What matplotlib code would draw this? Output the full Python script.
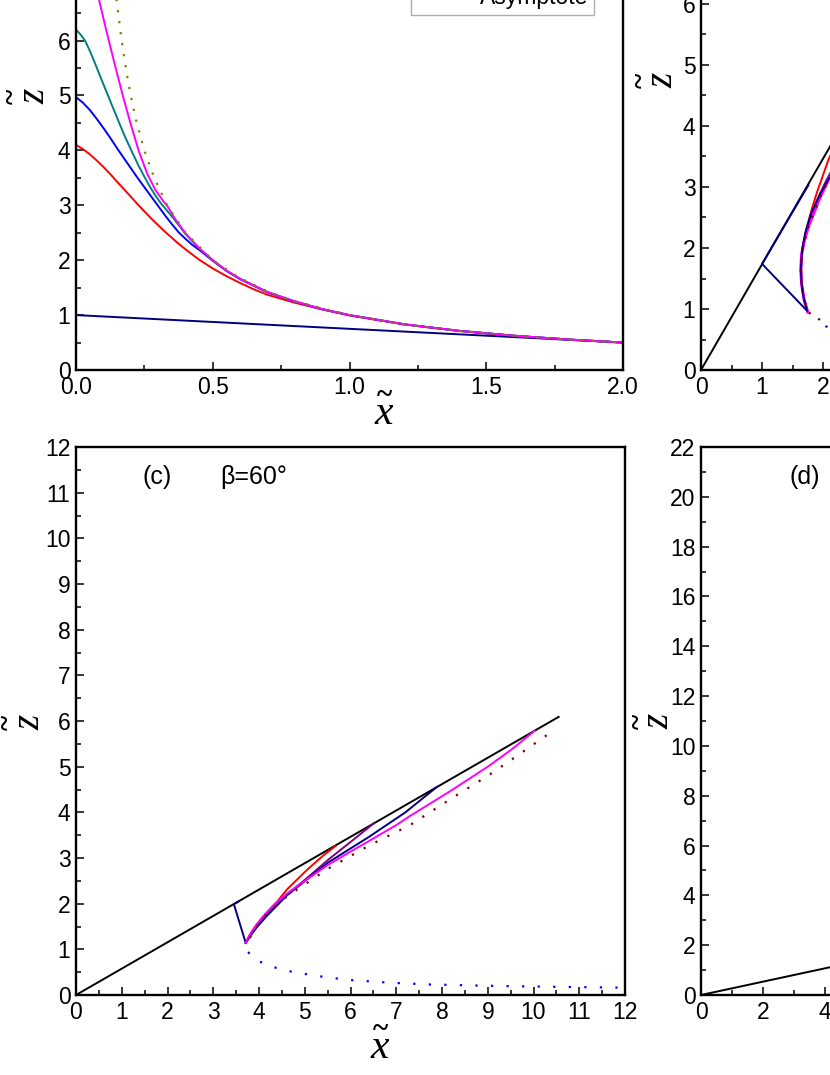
import numpy as np
import matplotlib
matplotlib.use('Agg')
import matplotlib.pyplot as plt
from matplotlib.ticker import MultipleLocator

plt.rcParams['font.family'] = ['Liberation Sans', 'DejaVu Sans']

# ── panel (a) data ────────────────────────────────────────────────────────────
a_asym_x = [0.12, 0.135, 0.149, 0.167, 0.186, 0.2, 0.222, 0.25, 0.286, 0.333, 0.4, 0.5, 0.6, 0.7, 0.8, 1.0, 1.2, 1.4, 1.6, 1.8, 2.0]
a_asym_z = [8.33, 7.41, 6.71, 6.0, 5.38, 5.0, 4.5, 4.0, 3.5, 3.0, 2.5, 2.0, 1.67, 1.43, 1.25, 1.0, 0.83, 0.71, 0.625, 0.556, 0.5]

a_mag_x = [0.06, 0.084, 0.11, 0.14, 0.17, 0.2, 0.23, 0.26, 0.29, 0.32, 0.335, 0.36, 0.4, 0.45, 0.5, 0.55, 0.6, 0.7, 0.8, 0.9, 1.0, 1.2, 1.4, 1.6, 1.8, 2.0]
a_mag_z = [7.25, 6.75, 6.2, 5.6, 5.02, 4.48, 3.98, 3.58, 3.28, 3.07, 2.98, 2.77, 2.49, 2.22, 2.0, 1.81, 1.66, 1.42, 1.25, 1.11, 1.0, 0.833, 0.714, 0.625, 0.556, 0.5]

a_teal_x = [0.0, 0.0, 0.015, 0.033, 0.05, 0.07, 0.09, 0.112, 0.135, 0.158, 0.18, 0.204, 0.228, 0.25, 0.27, 0.29, 0.31, 0.33, 0.36, 0.4, 0.45, 0.5, 0.55, 0.6, 0.7, 0.8, 0.9, 1.0, 1.2, 1.4, 1.6, 1.8, 2.0]
a_teal_z = [6.3, 6.2, 6.12, 6.0, 5.82, 5.58, 5.33, 5.06, 4.78, 4.5, 4.24, 3.98, 3.73, 3.52, 3.34, 3.18, 3.04, 2.92, 2.74, 2.48, 2.22, 2.0, 1.81, 1.66, 1.42, 1.25, 1.11, 1.0, 0.833, 0.714, 0.625, 0.556, 0.5]

a_blue_x = [0.0, 0.0, 0.025, 0.05, 0.075, 0.1, 0.125, 0.15, 0.175, 0.2, 0.225, 0.25, 0.275, 0.3, 0.325, 0.35, 0.375, 0.4, 0.425, 0.45, 0.5, 0.55, 0.6, 0.7, 0.8, 0.9, 1.0, 1.2, 1.4, 1.6, 1.8, 2.0]
a_blue_z = [5.1, 4.97, 4.87, 4.74, 4.58, 4.41, 4.23, 4.04, 3.86, 3.68, 3.5, 3.33, 3.16, 2.99, 2.82, 2.66, 2.51, 2.39, 2.28, 2.19, 1.99, 1.805, 1.655, 1.415, 1.245, 1.105, 0.998, 0.832, 0.713, 0.624, 0.555, 0.5]

a_red_x = [0.0, 0.0, 0.025, 0.05, 0.075, 0.1, 0.125, 0.15, 0.175, 0.2, 0.225, 0.25, 0.275, 0.3, 0.325, 0.35, 0.375, 0.4, 0.45, 0.5, 0.55, 0.6, 0.65, 0.7, 0.8, 0.9, 1.0, 1.2, 1.4, 1.6, 1.8, 2.0]
a_red_z = [4.2, 4.1, 4.025, 3.93, 3.82, 3.7, 3.57, 3.43, 3.295, 3.16, 3.02, 2.89, 2.76, 2.64, 2.52, 2.41, 2.3, 2.2, 2.01, 1.85, 1.71, 1.585, 1.47, 1.37, 1.225, 1.105, 0.995, 0.83, 0.712, 0.624, 0.555, 0.5]

a_navy_x = [0.0, 0.5, 1.0, 1.5, 2.0]
a_navy_z = [1.0, 0.875, 0.75, 0.625, 0.5]

# ── panel (b) data ────────────────────────────────────────────────────────────
b_wall_x = [0.0, 5.0]
b_wall_z = [0.0, 8.66]

b_navy_x = [1.76, 1.0, 1.74, 1.68, 1.645, 1.64, 1.66, 1.71, 1.8, 1.95, 2.12, 2.4]
b_navy_z = [3.03, 1.74, 0.97, 1.2, 1.45, 1.7, 1.98, 2.25, 2.55, 2.88, 3.18, 3.6]

b_mag_x = [1.75, 1.69, 1.65, 1.635, 1.65, 1.69, 1.76, 1.86, 1.96, 2.12, 2.3, 2.6]
b_mag_z = [0.95, 1.15, 1.4, 1.65, 1.9, 2.1, 2.35, 2.6, 2.85, 3.18, 3.5, 3.95]

b_purple_x = [1.75, 1.69, 1.65, 1.64, 1.655, 1.7, 1.78, 1.9, 2.05, 2.2, 2.45]
b_purple_z = [0.95, 1.15, 1.4, 1.65, 1.92, 2.15, 2.45, 2.78, 3.1, 3.38, 3.8]

b_red_x = [1.75, 1.68, 1.64, 1.645, 1.67, 1.74, 1.82, 1.9, 2.09, 2.3]
b_red_z = [0.95, 1.2, 1.5, 1.8, 2.05, 2.36, 2.65, 2.91, 3.45, 3.9]

b_asym_x = [1.95, 1.9, 1.75, 1.69, 1.65, 1.635, 1.65, 1.69, 1.76, 1.86, 1.96, 2.12, 2.3, 2.6]
b_asym_z = [0.82, 0.86, 0.95, 1.15, 1.4, 1.65, 1.9, 2.1, 2.35, 2.6, 2.85, 3.18, 3.5, 3.95]

b_low_x = [2.04, 2.3, 2.6]
b_low_z = [0.72, 0.6, 0.52]

# ── panel (c) data ────────────────────────────────────────────────────────────
c_wall_x = [0.0, 10.55]
c_wall_z = [0.0, 6.09]

c_navy_x = [3.56, 3.45, 3.71, 3.8, 3.95, 4.16, 4.61, 5.06, 5.51, 6.4, 7.2, 7.88]
c_navy_z = [2.05, 1.99, 1.14, 1.28, 1.48, 1.72, 2.18, 2.54, 2.9, 3.46, 4.0, 4.55]

c_red_x = [3.71, 3.8, 3.95, 4.16, 4.4, 4.61, 5.06, 5.4, 5.67]
c_red_z = [1.14, 1.32, 1.55, 1.79, 2.05, 2.31, 2.75, 3.05, 3.26]

c_purple_x = [3.71, 3.8, 3.95, 4.16, 4.61, 5.06, 5.51, 6.0, 6.51]
c_purple_z = [1.14, 1.3, 1.5, 1.75, 2.2, 2.57, 2.96, 3.35, 3.76]

c_mag_x = [3.71, 3.76, 3.85, 4.07, 4.3, 4.61, 5.0, 5.51, 6.0, 6.4, 7.0, 7.3, 8.19, 9.0, 9.5, 10.02]
c_mag_z = [1.14, 1.25, 1.4, 1.7, 1.95, 2.22, 2.5, 2.85, 3.14, 3.37, 3.72, 3.92, 4.47, 5.0, 5.36, 5.78]

c_asym_x = [3.8, 4.07, 4.6, 5.5, 6.4, 7.3, 8.2, 9.0, 9.5, 10.45]
c_asym_z = [1.25, 1.68, 2.15, 2.76, 3.27, 3.72, 4.3, 4.8, 5.14, 5.8]

c_low_x = [3.76, 3.94, 4.21, 4.61, 5.24, 5.95, 6.85, 7.74, 9.09, 10.43, 12.0]
c_low_z = [0.94, 0.77, 0.64, 0.53, 0.42, 0.33, 0.27, 0.23, 0.2, 0.18, 0.16]

# ── panel (d) data ────────────────────────────────────────────────────────────
d_wall_x = [0.0, 18.0]
d_wall_z = [0.0, 4.82]

# ── layout (pixels of the 830x1075 canvas) ───────────────────────────────────
W, H = 830, 1075
fig = plt.figure(figsize=(W / 100, H / 100), dpi=100)

def px_axes(left, bottom, w, h):
    return fig.add_axes([left / W, (H - bottom) / H, w / W, h / H])

ax_a = px_axes(76, 370, 547, 549)
ax_b = px_axes(701, 370, 549, 549)
ax_c = px_axes(76, 995, 549, 548)
ax_d = px_axes(701, 995, 558, 548)

LW = 1.4
TICKFS = 16.5
NAVY, RED, BLUE, TEAL, MAG = '#000080', '#ff0000', '#0000ff', '#008080', '#ff00ff'
PURPLE, DRED, OLIVE = '#800080', '#800000', '#808000'

def style(ax, xlim, ylim, xmaj, xmin, ymaj, ymin, xfmt=None):
    ax.set_xlim(*xlim)
    ax.set_ylim(*ylim)
    ax.xaxis.set_major_locator(MultipleLocator(xmaj))
    ax.xaxis.set_minor_locator(MultipleLocator(xmin))
    ax.yaxis.set_major_locator(MultipleLocator(ymaj))
    ax.yaxis.set_minor_locator(MultipleLocator(ymin))
    if xfmt:
        ax.xaxis.set_major_formatter(plt.FormatStrFormatter(xfmt))
    ax.tick_params(which='both', direction='in', top=False, right=False,
                   labelsize=TICKFS, width=1.1, pad=4)
    ax.tick_params(which='major', length=6)
    ax.tick_params(which='minor', length=3.5)
    for sp in ax.spines.values():
        sp.set_linewidth(1.7)

def xlabel(ax, xfrac, dy_tilde, dy_x):
    ax.annotate('~', xy=(xfrac, 0), xycoords='axes fraction', xytext=(0, -dy_tilde),
                textcoords='offset pixels', ha='center', va='center',
                family='Liberation Serif', fontweight='bold', fontsize=21)
    ax.annotate('x', xy=(xfrac, 0), xycoords='axes fraction', xytext=(0, -dy_x),
                textcoords='offset pixels', ha='center', va='center',
                family='Liberation Serif', style='italic', fontsize=30)

def zlabel(ax, yfrac, dx_tilde, dx_z):
    ax.annotate('~', xy=(0, yfrac), xycoords='axes fraction', xytext=(-dx_tilde, 0),
                textcoords='offset pixels', ha='center', va='center', rotation=90,
                family='Liberation Serif', fontweight='bold', fontsize=21)
    ax.annotate('z', xy=(0, yfrac), xycoords='axes fraction', xytext=(-dx_z, 0),
                textcoords='offset pixels', ha='center', va='center', rotation=90,
                family='Liberation Serif', style='italic', fontsize=28)

# ── (a) ───────────────────────────────────────────────────────────────────────
style(ax_a, (0, 2), (0, 10), 0.5, 0.25, 1, 0.5, xfmt='%.1f')
ax_a.plot(a_navy_x, a_navy_z, color=NAVY, lw=LW)
ax_a.plot(a_red_x, a_red_z, color=RED, lw=LW)
ax_a.plot(a_blue_x, a_blue_z, color=BLUE, lw=LW)
ax_a.plot(a_teal_x, a_teal_z, color=TEAL, lw=LW)
ax_a.plot(a_mag_x, a_mag_z, color=MAG, lw=LW)
ax_a.plot(a_asym_x, a_asym_z, color=OLIVE, lw=1.6, ls=(0, (1, 4)), label='Asymptote')
leg = ax_a.legend(loc='lower left', bbox_to_anchor=((411 - 76) / 547, (370 - 15) / 549),
                  fontsize=16.5, frameon=True, fancybox=False, handlelength=2.0,
                  borderpad=0.25, handletextpad=0.75, borderaxespad=0)
leg.get_frame().set_edgecolor('#999999')
leg.get_frame().set_linewidth(1.0)
xlabel(ax_a, (384 - 76) / 547, 25, 44)
zlabel(ax_a, 274 / 549, 64, 41)

# ── (b) ───────────────────────────────────────────────────────────────────────
style(ax_b, (0, 9), (0, 9), 1, 0.5, 1, 0.5)
ax_b.plot(b_wall_x, b_wall_z, color='black', lw=LW)
ax_b.plot(b_red_x, b_red_z, color=RED, lw=LW)
ax_b.plot(b_purple_x, b_purple_z, color=PURPLE, lw=LW)
ax_b.plot(b_mag_x, b_mag_z, color=MAG, lw=2.2)
ax_b.plot(b_navy_x, b_navy_z, color=NAVY, lw=LW)
ax_b.plot(b_asym_x, b_asym_z, color=DRED, lw=1.6, ls=(0, (1, 4)))
ax_b.plot(b_low_x, b_low_z, color=BLUE, lw=1.6, ls=(0, (1, 6)))
zlabel(ax_b, 290 / 549, 60, 38)

# ── (c) ───────────────────────────────────────────────────────────────────────
style(ax_c, (0, 12), (0, 12), 1, 0.5, 1, 0.5)
ax_c.plot(c_wall_x, c_wall_z, color='black', lw=LW)
ax_c.plot(c_red_x, c_red_z, color=RED, lw=LW)
ax_c.plot(c_purple_x, c_purple_z, color=PURPLE, lw=LW)
ax_c.plot(c_navy_x, c_navy_z, color=NAVY, lw=LW)
ax_c.plot(c_mag_x, c_mag_z, color=MAG, lw=LW)
ax_c.plot(c_asym_x, c_asym_z, color=DRED, lw=1.6, ls=(0, (1, 5)))
ax_c.plot(c_low_x, c_low_z, color=BLUE, lw=1.6, ls=(0, (1, 6)))
ax_c.text(0.148, 0.945, '(c)', transform=ax_c.transAxes, ha='center', va='center', fontsize=18)
ax_c.text(0.262, 0.945, 'β=60°', transform=ax_c.transAxes, ha='left', va='center', fontsize=18)
xlabel(ax_c, (380 - 76) / 549, 34, 53)
zlabel(ax_c, 273 / 548, 69, 46)

# ── (d) ───────────────────────────────────────────────────────────────────────
style(ax_d, (0, 18), (0, 22), 2, 1, 2, 1)
ax_d.plot(d_wall_x, d_wall_z, color='black', lw=LW)
ax_d.text(0.186, 0.945, '(d)', transform=ax_d.transAxes, ha='center', va='center', fontsize=18)
zlabel(ax_d, 274 / 548, 63, 42)

fig.savefig('out.png', dpi=100)
